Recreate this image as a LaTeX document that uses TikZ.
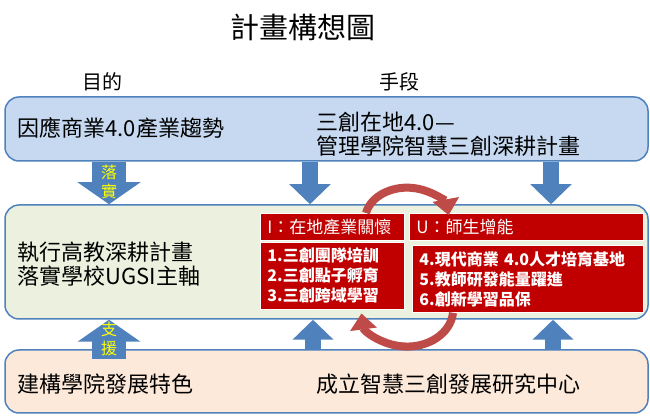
\documentclass[tikz,border=0pt]{standalone}
\usepackage{fontspec}
\setmainfont{Noto Sans CJK TC}
\usepackage{xcolor}
\usepackage{tikz}
\usetikzlibrary{arrows.meta,calc}
\definecolor{boxline}{HTML}{4F81BD}
\definecolor{topfill}{HTML}{C6D9F1}
\definecolor{midfill}{HTML}{EBF1DE}
\definecolor{botfill}{HTML}{FDE9D9}
\definecolor{arrowblue}{HTML}{4F81BD}
\definecolor{ugsired}{HTML}{C00000}
\definecolor{loopred}{HTML}{BE4B48}
\definecolor{labelyellow}{HTML}{FFFF00}

\begin{document}
\begin{tikzpicture}[x=1pt,y=1pt,
	band/.style={draw=boxline,line width=1.5pt,rounded corners=14pt,minimum width=643pt},
	bigtext/.style={font=\fontsize{22}{24}\selectfont,anchor=west,align=left},
	redbox/.style={fill=ugsired,draw=white,line width=0.8pt,text=white,align=left,anchor=north west,inner xsep=7pt},
	headtext/.style={font=\fontsize{17}{20}\selectfont},
	listtext/.style={font=\fontsize{16}{20}\selectfont\bfseries},
	blockarrow/.style={arrowblue,line width=16pt,-{Triangle[length=20pt,width=40pt]}},
	wideblock/.style={arrowblue,line width=34pt,-{Triangle[length=22pt,width=62pt]}},
	looparrow/.style={loopred,line width=8pt,-{Triangle[length=16pt,width=26pt]}},
	arrowlabel/.style={text=labelyellow,font=\fontsize{16}{19}\selectfont,align=center}]
	\useasboundingbox (0,0) rectangle (650,417);
	\node[font=\fontsize{29}{34}\selectfont] (title) at (303,390) {計畫構想圖};
	\node[font=\fontsize{20}{24}\selectfont] (goal) at (102,335) {目的};
	\node[font=\fontsize{20}{24}\selectfont] (means) at (399,335) {手段};
	\node[band,fill=topfill,minimum height=64pt] (top) at (326.5,288) {};
	\node[band,fill=midfill,minimum height=114pt] (mid) at (326.5,155) {};
	\node[band,fill=botfill,minimum height=63pt] (bot) at (326.5,35.5) {};
	\node[bigtext] (trend) at (14,289) {因應商業4.0產業趨勢};
	\node[bigtext] (plan) at (313,283) {三創在地4.0—\\管理學院智慧三創深耕計畫};
	\node[bigtext] (exec) at (14,153) {執行高教深耕計畫\\落實學校UGSI主軸};
	\node[bigtext] (feature) at (14,33) {建構學院發展特色};
	\node[bigtext] (center) at (313,33) {成立智慧三創發展研究中心};
	\draw[wideblock] (109,0 |- top.south) -- (109,0 |- mid.north);
	\foreach \x in {310,551}
	\draw[blockarrow] (\x,0 |- top.south) -- (\x,0 |- mid.north);
	\draw[wideblock] ($(109,0 |- bot.north)+(0,-10)$) -- (109,0 |- mid.south);
	\foreach \x in {313,553}
	\draw[blockarrow] (\x,0 |- bot.north) -- (\x,0 |- mid.south);
	\node[arrowlabel] (luoshi) at (109,235) {落\\實};
	\node[arrowlabel] (zhiyuan) at (109,78) {支\\援};
	\node[redbox,headtext,text width=130pt,minimum height=27pt] (lefthead) at (260,204) {I：在地產業關懷};
	\node[redbox,headtext,text width=220pt,minimum height=27pt] (righthead) at (409,204) {U：師生增能};
	\node[redbox,listtext,text width=130pt,minimum height=67pt] (leftlist) at (260,175) {1.三創團隊培訓\\2.三創點子孵育\\3.三創跨域學習};
	\node[redbox,listtext,text width=217pt,minimum height=67pt] (rightlist) at (412,172) {4.現代商業 4.0人才培育基地\\5.教師研發能量躍進\\6.創新學習品保};
	\draw[looparrow] (366,0 |- lefthead.north) arc[start angle=168,end angle=8,x radius=42,y radius=32];
	\draw[looparrow] (453,0 |- rightlist.south) arc[start angle=-5,end angle=-174,x radius=46,y radius=37];
\end{tikzpicture}
\end{document}
